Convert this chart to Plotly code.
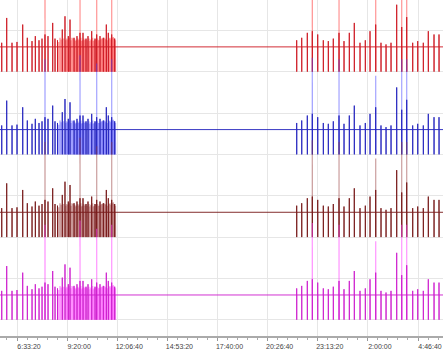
import plotly.graph_objects as go
import pandas as pd

# ---------------- data ----------------
start_time = "2024-03-01 05:36:48"
end_time = "2024-03-02 06:09:46"

series_names = ["Ch 1", "Ch 2", "Ch 3", "Ch 4"]
series_baselines = [3.0, 2.0, 1.0, 0.0]
trough_level = -0.30

# main spike events: minutes after start_time, peak (mV above baseline)
spike_minutes = [
    5.7, 22.3, 39.9, 56.5, 75.5, 90.8, 106.4, 117.4, 129.7, 139.7, 149.6, 159.6,
    175.2, 182.9, 191.2, 207.1, 216.1, 227.1, 232.8, 246.1, 256.0, 266.0, 276.0,
    286.0, 292.6, 304.9, 315.9, 321.5, 332.5, 343.5, 353.5, 360.1, 371.4, 381.4,
    986.5, 1003.2, 1021.8, 1038.4, 1056.4, 1075.0, 1091.6, 1108.2, 1127.2, 1143.8,
    1161.4, 1178.0, 1197.0, 1214.6, 1230.3, 1249.2, 1266.8, 1283.5, 1300.1, 1319.0,
    1335.7, 1352.3, 1372.2, 1388.9, 1407.5, 1424.1, 1443.1, 1459.7,
]
spike_peaks = [
    0.05, 0.35, 0.05, 0.06, 0.27, 0.11, 0.07, 0.13, 0.08, 0.10, 0.15, 0.13,
    0.29, 0.10, 0.08, 0.21, 0.37, 0.13, 0.33, 0.11, 0.13, 0.17, 0.17,
    0.10, 0.13, 0.19, 0.10, 0.15, 0.13, 0.11, 0.27, 0.17, 0.15, 0.10,
    0.08, 0.11, 0.17, 0.19, 0.15, 0.08, 0.07, 0.10, 0.17, 0.07,
    0.17, 0.29, 0.05, 0.08, 0.19, 0.27, 0.05, 0.03, 0.05, 0.51,
    0.24, 0.36, 0.05, 0.07, 0.05, 0.19, 0.15, 0.15,
]

# faint tall spikes (mV above baseline)
tall_minutes = [149.6, 266.0, 321.5, 371.4, 1038.4, 1127.2, 1249.2, 1335.7, 1352.3]
tall_peaks = [0.85, 0.90, 0.80, 0.85, 0.87, 0.85, 0.65, 0.85, 0.85]

# faint dense activity between the main spikes
dense_minutes = [
    195.3, 199.5, 203.3, 211.6, 219.0, 221.8, 224.5, 230.0, 236.1, 239.4, 242.8,
    248.6, 251.0, 253.5, 258.5, 261.0, 263.5, 268.5, 271.0, 273.5, 278.5, 281.0,
    283.5, 289.3, 295.5, 298.3, 301.6, 307.6, 310.2, 313.1, 318.7, 324.2, 326.8,
    329.7, 335.4, 338.2, 340.9, 346.3, 349.1, 351.3, 356.8, 363.0, 365.8, 368.6,
    374.1, 376.7, 379.1, 383.5,
]
dense_peaks = [
    0.06, 0.11, 0.09, 0.10, 0.08, 0.10, 0.09, 0.11, 0.08, 0.11, 0.10,
    0.09, 0.07, 0.08, 0.10, 0.08, 0.09, 0.11, 0.07, 0.08, 0.10, 0.08,
    0.09, 0.08, 0.10, 0.07, 0.09, 0.11, 0.07, 0.08, 0.09, 0.10, 0.08,
    0.08, 0.09, 0.10, 0.10, 0.11, 0.10, 0.09, 0.08, 0.10, 0.11, 0.09,
    0.11, 0.12, 0.10, 0.08,
]

dark_colors = ["rgba(205,22,32,0.9)", "rgba(34,34,190,0.9)",
               "rgba(118,22,22,0.9)", "rgba(205,28,205,0.9)"]
light_colors = ["rgba(255,60,60,0.55)", "rgba(70,70,255,0.5)",
                "rgba(150,60,60,0.5)", "rgba(255,60,255,0.55)"]
fill_colors = ["rgba(255,80,80,0.5)", "rgba(90,90,255,0.45)",
               "rgba(165,80,80,0.45)", "rgba(255,80,255,0.5)"]

# major tick labels
tick_start = "2024-03-01 06:33:20"
tick_step_ms = 10000 * 1000
minor_step_ms = 2000 * 1000

# ---------------- build ----------------
t0 = pd.Timestamp(start_time)
t_end = pd.Timestamp(end_time)
eps = pd.Timedelta(seconds=8)


def signal_xy(base):
    xs = [t0 - pd.Timedelta(minutes=5)]
    ys = [base]
    for m, p in sorted(zip(spike_minutes, spike_peaks)):
        t = t0 + pd.Timedelta(minutes=m)
        xs += [t - eps, t, t + eps, t + 2 * eps]
        ys += [base, base + p, base + trough_level, base]
    xs.append(t_end + pd.Timedelta(minutes=5))
    ys.append(base)
    return xs, ys


def faint_xy(base, minutes, peaks):
    xs, ys = [], []
    for m, p in zip(minutes, peaks):
        t = t0 + pd.Timedelta(minutes=m)
        xs += [t, t + eps, None]
        ys += [base + p, base + trough_level, None]
    return xs, ys


fig = go.Figure()
for name, base, dc, lc, fc in zip(series_names, series_baselines, dark_colors,
                                  light_colors, fill_colors):
    fx, fy = faint_xy(base, dense_minutes, dense_peaks)
    fig.add_trace(go.Scatter(x=fx, y=fy, mode="lines", line=dict(color=fc, width=1.6),
                             showlegend=False, hoverinfo="skip"))
    tx, ty = faint_xy(base, tall_minutes, tall_peaks)
    fig.add_trace(go.Scatter(x=tx, y=ty, mode="lines", line=dict(color=lc, width=1.2),
                             showlegend=False, hoverinfo="skip"))
    sx, sy = signal_xy(base)
    fig.add_trace(go.Scatter(x=sx, y=sy, mode="lines", name=name,
                             line=dict(color=dc, width=1), showlegend=False))

fig.update_layout(
    width=443, height=350,
    margin=dict(l=0, r=0, t=0, b=14),
    paper_bgcolor="white", plot_bgcolor="white",
    showlegend=False,
)
fig.update_xaxes(
    type="date",
    range=[t0, t_end],
    tick0=tick_start, dtick=tick_step_ms,
    tickformat="%-H:%M:%S",
    ticks="outside", ticklen=3, tickcolor="#999", tickwidth=1,
    ticklabelshift=12, ticklabelstandoff=0,
    tickfont=dict(family="Liberation Sans Narrow, Liberation Sans, Arial", size=7, color="#444"),
    showgrid=True, gridcolor="#e6e6e6", gridwidth=1,
    showline=True, linecolor="#aaa", linewidth=2,
    minor=dict(dtick=minor_step_ms, ticks="outside", ticklen=2, tickcolor="#aaa", showgrid=False),
    zeroline=False,
)
fig.update_yaxes(
    range=[-0.496, 3.567],
    tick0=-0.3, dtick=0.5,
    showticklabels=False, ticks="",
    showgrid=True, gridcolor="#e6e6e6", gridwidth=1,
    zeroline=False, showline=False,
)

fig.write_html("out.html")
